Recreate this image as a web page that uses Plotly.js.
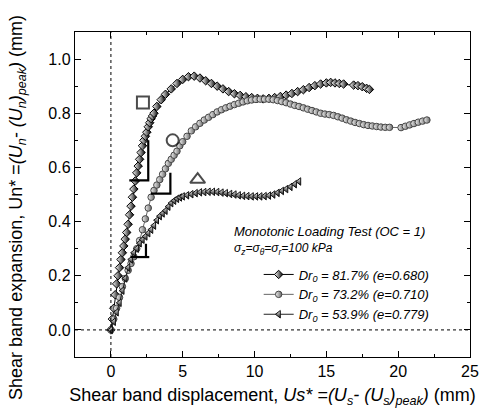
<!DOCTYPE html>
<html><head><meta charset="utf-8">
<script src="https://cdn.plot.ly/plotly-3.0.1.min.js"></script>
<style>html,body{margin:0;padding:0;background:#fff}#plot{width:481px;height:415px}</style>
</head><body><div id="plot"></div>
<script>
// Series 1: Dr0 = 81.7% (diamonds)
const xD = [0,0.1,0.2,0.3,0.4,0.5,0.6,0.7,0.8,0.9,1.0,1.1,1.2,1.3,1.4,1.5,1.6,1.7,1.8,1.9,2.0,2.1,2.2,2.3,2.4,2.5,2.6,2.7,2.8,2.9,3.0,3.2,3.5,3.8,4.2,4.6,5.0,5.4,5.8,6.2,6.6,7.0,7.4,7.8,8.2,8.6,9.0,9.4,9.8,10.2,10.6,11.0,11.4,11.8,12.2,12.6,13.0,13.4,13.8,14.2,14.6,15.0,15.3,15.6,15.9,16.2,16.9,17.2,17.5,17.8,18.0];
const yD = [0,0.04,0.08,0.13,0.17,0.2,0.23,0.26,0.285,0.31,0.335,0.36,0.39,0.425,0.457,0.49,0.52,0.55,0.58,0.605,0.63,0.655,0.68,0.70,0.715,0.73,0.75,0.765,0.78,0.79,0.80,0.825,0.85,0.87,0.89,0.91,0.925,0.935,0.937,0.93,0.92,0.91,0.90,0.89,0.88,0.872,0.866,0.861,0.858,0.855,0.853,0.855,0.858,0.862,0.867,0.873,0.88,0.887,0.895,0.902,0.908,0.912,0.914,0.912,0.91,0.908,0.904,0.902,0.898,0.892,0.888];
// Series 2: Dr0 = 73.2% (circles)
const xC = [0,0.2,0.4,0.6,0.8,1.0,1.2,1.4,1.6,1.8,2.0,2.2,2.4,2.6,2.8,3.0,3.2,3.4,3.6,3.8,4.0,4.2,4.4,4.6,4.8,5.0,5.3,5.6,5.9,6.2,6.5,6.8,7.1,7.4,7.7,8.0,8.3,8.6,8.9,9.2,9.5,9.8,10.1,10.4,10.7,11.0,11.3,11.6,11.9,12.2,12.5,12.8,13.1,13.4,13.7,14.0,14.3,14.6,14.9,15.2,15.5,15.8,16.1,16.4,16.7,17.0,17.3,17.6,17.9,18.2,18.5,18.8,19.1,19.4,20.2,20.5,20.8,21.1,21.4,21.7,22.0];
const yC = [0,0.04,0.08,0.12,0.16,0.19,0.22,0.245,0.27,0.30,0.33,0.37,0.41,0.45,0.49,0.515,0.535,0.555,0.575,0.595,0.615,0.63,0.645,0.66,0.68,0.695,0.715,0.735,0.75,0.763,0.775,0.785,0.795,0.805,0.813,0.82,0.826,0.832,0.837,0.842,0.846,0.849,0.851,0.852,0.852,0.852,0.85,0.847,0.843,0.839,0.834,0.829,0.825,0.82,0.815,0.81,0.805,0.80,0.797,0.795,0.792,0.787,0.782,0.776,0.771,0.766,0.762,0.758,0.755,0.753,0.751,0.749,0.748,0.748,0.747,0.752,0.757,0.762,0.767,0.771,0.775];
// Series 3: Dr0 = 53.9% (triangles)
const xT = [0,0.2,0.4,0.6,0.8,1.0,1.2,1.4,1.6,1.8,2.0,2.2,2.4,2.6,2.8,3.0,3.2,3.4,3.6,3.8,4.0,4.2,4.4,4.6,4.8,5.0,5.3,5.6,5.9,6.2,6.5,6.8,7.1,7.4,7.7,8.0,8.3,8.6,8.9,9.2,9.5,9.8,10.1,10.4,10.7,11.0,11.3,11.6,11.9,12.2,12.5,12.8,13.1];
const yT = [0,0.03,0.065,0.1,0.145,0.19,0.23,0.26,0.285,0.30,0.32,0.333,0.345,0.357,0.37,0.385,0.405,0.42,0.43,0.44,0.455,0.468,0.477,0.484,0.489,0.493,0.497,0.501,0.505,0.508,0.509,0.51,0.51,0.509,0.507,0.505,0.502,0.50,0.497,0.495,0.494,0.493,0.493,0.493,0.494,0.496,0.50,0.506,0.513,0.52,0.528,0.538,0.548];
// Slope triangles
const slopeDx = [1.28,2.6,2.6], slopeDy = [0.552,0.552,0.70];
const slopeCx = [2.78,4.14,4.14], slopeCy = [0.503,0.503,0.58];
const slopeTx = [1.39,2.67], slopeTy = [0.269,0.269];
const slopeTvx = [2.44,2.44], slopeTvy = [0.269,0.318];
// Big symbol labels
const symX = [2.23,4.3,6.04], symY = [0.84,0.70,0.555];
const symShapes = ['square-open','circle-open','triangle-up-open'];
const names = ['<i>Dr<sub>0</sub> = 81.7% (e=0.680)</i>','<i>Dr<sub>0</sub> = 73.2% (e=0.710)</i>','<i>Dr<sub>0</sub> = 53.9% (e=0.779)</i>'];
const yTitle = 'Shear band expansion, Un* =<i>(U<sub>n</sub>- (U<sub>n</sub>)<sub>peak</sub>)</i> (mm)';
const xTitle = 'Shear band displacement, <i>Us* =(U<sub>s</sub>- (U<sub>s</sub>)<sub>peak</sub>)</i> (mm)';

const F = 'Liberation Sans, Arial, sans-serif';
const traces = [
 {x:xD,y:yD,name:names[0],mode:'lines+markers',line:{color:'#000',width:1},
  marker:{symbol:'diamond',size:6.5,color:'#fff',gradient:{type:'horizontal',color:'#000'},line:{color:'#000',width:1}}},
 {x:xC,y:yC,name:names[1],mode:'lines+markers',line:{color:'#666',width:1},
  marker:{symbol:'circle',size:6.5,color:'#f2f2f2',gradient:{type:'horizontal',color:'#666'},line:{color:'#444',width:1}}},
 {x:xT,y:yT,name:names[2],mode:'lines+markers',line:{color:'#222',width:1},
  marker:{symbol:'triangle-left',size:6.5,color:'#fff',gradient:{type:'vertical',color:'#111'},line:{color:'#111',width:1}}},
 {x:slopeDx,y:slopeDy,mode:'lines',line:{color:'#000',width:2.2},showlegend:false,hoverinfo:'skip'},
 {x:slopeCx,y:slopeCy,mode:'lines',line:{color:'#000',width:2.2},showlegend:false,hoverinfo:'skip'},
 {x:slopeTx,y:slopeTy,mode:'lines',line:{color:'#000',width:2.2},showlegend:false,hoverinfo:'skip'},
 {x:slopeTvx,y:slopeTvy,mode:'lines',line:{color:'#000',width:2.2},showlegend:false,hoverinfo:'skip'},
 {x:symX,y:symY,mode:'markers',showlegend:false,hoverinfo:'skip',
  marker:{symbol:symShapes,size:[12,12,13],color:'#000',line:{color:'#000',width:2}}}
];
const axisCommon = {showline:true,linecolor:'#000',linewidth:1.2,mirror:'allticks',ticks:'inside',ticklen:6,tickwidth:1,tickcolor:'#000',
  showgrid:false,zeroline:false,tickfont:{family:F,size:16,color:'#000'},
  minor:{ticks:'inside',ticklen:3,tickcolor:'#000',tickwidth:1,showgrid:false}};
const layout = {
 width:481,height:415,margin:{l:75,r:11,t:32,b:58},paper_bgcolor:'#fff',plot_bgcolor:'#fff',
 font:{family:F,color:'#000'},
 xaxis:Object.assign({},axisCommon,{range:[-2.5,25],tickvals:[0,5,10,15,20,25],minor:Object.assign({},axisCommon.minor,{dtick:2.5,tick0:0}),
   title:{text:xTitle,font:{family:F,size:18,color:'#000'},standoff:9}}),
 yaxis:Object.assign({},axisCommon,{range:[-0.1,1.1],tickvals:[0,0.2,0.4,0.6,0.8,1.0],ticktext:['0.0','0.2','0.4','0.6','0.8','1.0'],minor:Object.assign({},axisCommon.minor,{dtick:0.1,tick0:0})}),
 shapes:[
  {type:'line',xref:'x',yref:'paper',x0:0,x1:0,y0:0,y1:1,line:{color:'#000',width:1,dash:'dot'}},
  {type:'line',xref:'paper',yref:'y',x0:0,x1:1,y0:0,y1:0,line:{color:'#000',width:1,dash:'dot'}}
 ],
 annotations:[
  {x:-0.147,y:0.4615,xref:'paper',yref:'paper',xanchor:'center',yanchor:'middle',textangle:-90,showarrow:false,text:yTitle,font:{family:F,size:18,color:'#000'}},
  {x:8.4,y:0.363,xref:'x',yref:'y',xanchor:'left',yanchor:'middle',showarrow:false,text:'<i>Monotonic Loading Test (OC = 1)</i>',font:{family:F,size:13,color:'#000'}},
  {x:8.4,y:0.30,xref:'x',yref:'y',xanchor:'left',yanchor:'middle',showarrow:false,text:'<i>σ<sub>z</sub>=σ<sub>θ</sub>=σ<sub>r</sub>=100 kPa</i>',font:{family:F,size:12,color:'#000'}}
 ],
 legend:{x:0.465,y:0.30,xanchor:'left',yanchor:'top',bgcolor:'rgba(0,0,0,0)',font:{family:F,size:13,color:'#000'},tracegroupgap:0,itemwidth:30},
 showlegend:true
};
Plotly.newPlot('plot',traces,layout,{displayModeBar:false,staticPlot:true});
</script></body></html>
